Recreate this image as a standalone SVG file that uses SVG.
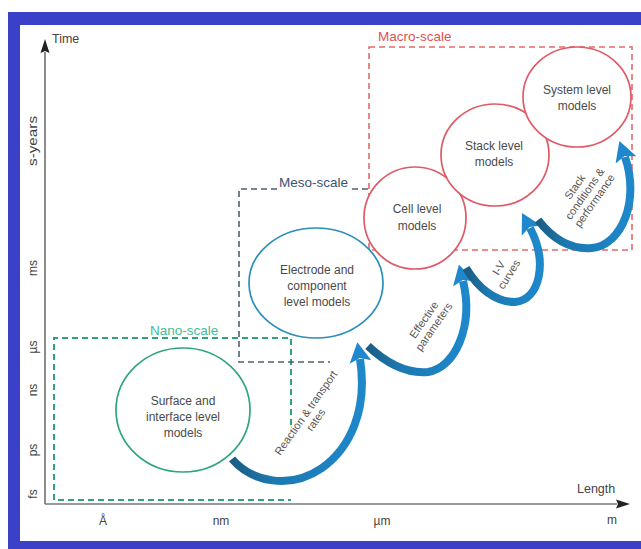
<svg xmlns="http://www.w3.org/2000/svg" width="641" height="549" viewBox="0 0 641 549">
<style>
text{font-family:"Liberation Sans",Arial,sans-serif;}
.lbl{font-size:12px;fill:#4a4a4a;text-anchor:middle;}
.ax{font-size:12.5px;fill:#444;}
.tick{font-size:12px;fill:#444;text-anchor:middle;}
.arrlbl{font-size:11px;fill:#555;text-anchor:middle;}
.arrow{fill:none;stroke:url(#ag);stroke-width:8;marker-end:url(#ah);}
.circ{fill:#fff;stroke-width:1.7;}
</style>
<defs>
<linearGradient id="ag" x1="0" y1="0" x2="1" y2="0">
<stop offset="0" stop-color="#1a5d82"/>
<stop offset="0.3" stop-color="#1c78b0"/>
<stop offset="1" stop-color="#1e88cb"/>
</linearGradient>
<marker id="ah" markerUnits="userSpaceOnUse" markerWidth="24" markerHeight="24" viewBox="0 -12 24 24" refX="3" refY="0" orient="auto">
<path d="M0,-11 L20,0 L0,11 L4,0 Z" fill="#1f88cc"/>
</marker>
<marker id="axh" markerUnits="userSpaceOnUse" markerWidth="16" markerHeight="12" viewBox="0 -6 16 12" refX="1" refY="0" orient="auto">
<path d="M0,-4.5 L14,0 L0,4.5 L2,0 Z" fill="#222"/>
</marker>
</defs>
<rect width="641" height="549" fill="#fff"/>
<rect x="8" y="12" width="633" height="537" fill="#3b40c8"/>
<rect x="20" y="25" width="621" height="516" fill="#fff"/>

<g id="axes">
<line x1="45" y1="504" x2="45" y2="52" stroke="#666" stroke-width="1.5" marker-end="url(#axh)"/>
<line x1="45" y1="504" x2="617" y2="504" stroke="#777" stroke-width="1.5" marker-end="url(#axh)"/>
<text class="ax" x="52" y="43">Time</text>
<text class="ax" x="577" y="493">Length</text>
<text class="tick" transform="translate(37,141) rotate(-90)" textLength="50" lengthAdjust="spacingAndGlyphs">s-years</text>
<text class="tick" transform="translate(37,268) rotate(-90)">ms</text>
<text class="tick" transform="translate(37,347) rotate(-90)">µs</text>
<text class="tick" transform="translate(37,390) rotate(-90)">ns</text>
<text class="tick" transform="translate(37,450) rotate(-90)">ps</text>
<text class="tick" transform="translate(37,494) rotate(-90)">fs</text>
<text class="tick" x="103" y="525">Å</text>
<text class="tick" x="221" y="525">nm</text>
<text class="tick" x="382" y="525">µm</text>
<text class="tick" x="612" y="524">m</text>
</g>

<g id="nano-scale">
<path d="M291,425 V338 H54 V500 H291" fill="none" stroke="#2fa478" stroke-width="2" stroke-dasharray="6,4"/>
<text x="150" y="335" font-size="13.5" fill="#45bb92">Nano-scale</text>
</g>

<g id="meso-scale">
<path d="M277,189 H239 V362 H330 M352,189 H368" fill="none" stroke="#4f5f70" stroke-width="1.6" stroke-dasharray="6,4"/>
<text x="279" y="187" font-size="13.5" fill="#3b5274">Meso-scale</text>
</g>

<g id="macro-scale">
<rect x="369" y="47" width="263" height="203" fill="none" stroke="#e36a6a" stroke-width="1.6" stroke-dasharray="6,4"/>
<text x="378" y="41" font-size="13.5" fill="#e05252">Macro-scale</text>
</g>

<g id="surface">
<ellipse class="circ" cx="183" cy="410" rx="67" ry="62" stroke="#2fa57f"/>
<text class="lbl" x="183" y="405">Surface and</text>
<text class="lbl" x="183" y="421">interface level</text>
<text class="lbl" x="183" y="437">models</text>
</g>

<g id="electrode">
<ellipse class="circ" cx="316" cy="283" rx="67" ry="55" stroke="#2a8fba"/>
<text class="lbl" x="317" y="274">Electrode and</text>
<text class="lbl" x="317" y="290">component</text>
<text class="lbl" x="317" y="306">level models</text>
</g>

<g id="cell">
<ellipse class="circ" cx="415" cy="218" rx="51" ry="51" stroke="#df5a66"/>
<text class="lbl" x="417" y="213">Cell level</text>
<text class="lbl" x="417" y="230">models</text>
</g>

<g id="stack">
<ellipse class="circ" cx="495" cy="155" rx="54" ry="51" stroke="#df5a66"/>
<text class="lbl" x="494" y="150">Stack level</text>
<text class="lbl" x="494" y="166">models</text>
</g>

<g id="system">
<ellipse class="circ" cx="577" cy="97" rx="54" ry="50" stroke="#df5a66"/>
<text class="lbl" x="577" y="94">System level</text>
<text class="lbl" x="577" y="110">models</text>
</g>

<g id="connectors">
<path class="arrow" d="M232,459 C252,482 290,490 322,468 C350,448 368,410 360,359"/>
<path class="arrow" d="M368,346 C385,362 405,374 428,372 C455,368 474,326 463,281"/>
<path class="arrow" d="M466,268 C478,288 495,302 515,302 C540,300 548,262 530,228"/>
<path class="arrow" d="M538,220 C552,238 570,250 592,248 C622,245 640,200 625,157"/>
<text class="arrlbl" transform="translate(309,415) rotate(-55)"><tspan x="0" dy="0">Reaction &amp; transport</tspan><tspan x="0" dy="12">rates</tspan></text>
<text class="arrlbl" transform="translate(427,322) rotate(-55)"><tspan x="0" dy="0">Effective</tspan><tspan x="0" dy="12">parameters</tspan></text>
<text class="arrlbl" transform="translate(502,270) rotate(-58)"><tspan x="0" dy="0">I-V</tspan><tspan x="0" dy="12">curves</tspan></text>
<text class="arrlbl" transform="translate(578,189) rotate(-55)"><tspan x="0" dy="0">Stack</tspan><tspan x="0" dy="12">conditions &amp;</tspan><tspan x="0" dy="12">performance</tspan></text>
</g>
</svg>
